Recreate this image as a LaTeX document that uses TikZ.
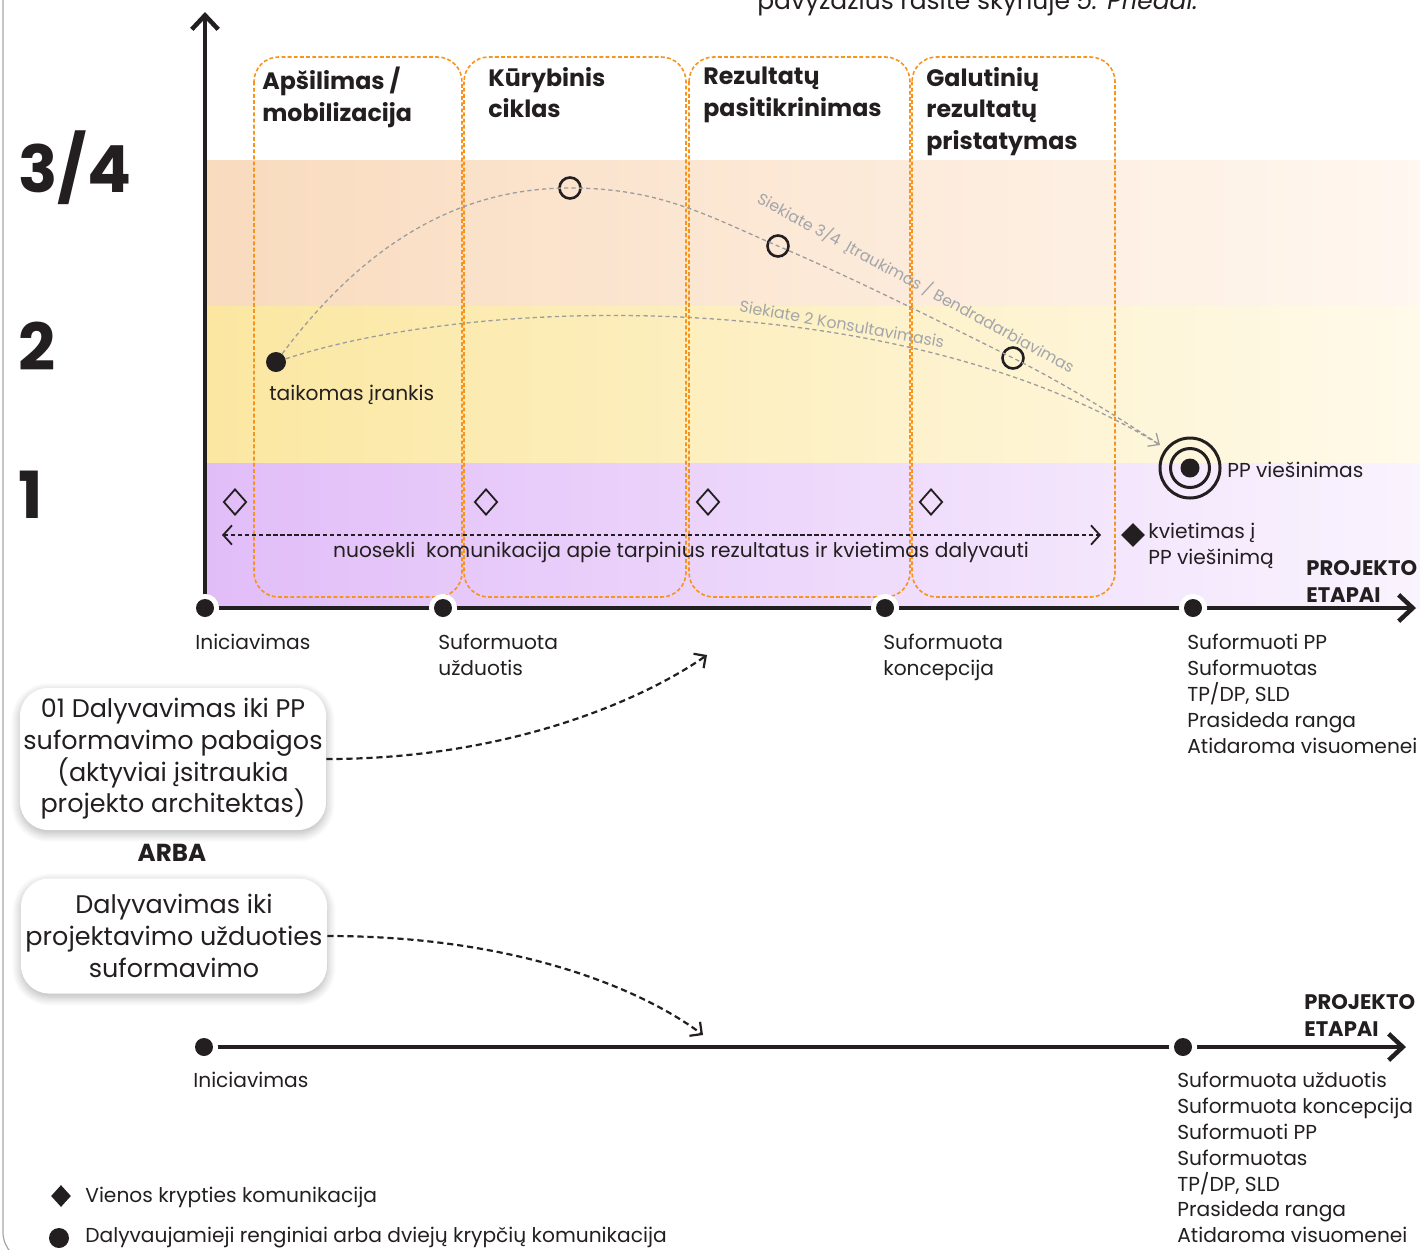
\documentclass[tikz,border=0pt]{standalone}
\usepackage{fontspec}
\setmainfont{Poppins}
\usetikzlibrary{positioning, shapes.geometric, arrows.meta, calc, shadows.blur}

\definecolor{ink}{HTML}{231F20}
\definecolor{stageorange}{HTML}{F7941D}
\definecolor{trendgray}{HTML}{9D9D9D}
\definecolor{labelgray}{HTML}{A3A5AA}
\definecolor{bandhigh}{HTML}{F9DBBE}
\definecolor{bandhighend}{HTML}{FFF7F0}
\definecolor{bandmid}{HTML}{FBE7A1}
\definecolor{bandmidend}{HTML}{FFFAEA}
\definecolor{bandlow}{HTML}{E1BDF8}
\definecolor{bandlowend}{HTML}{FAF4FE}

\newdimen\pxu
\pxu=0.02cm

\begin{document}
\begin{tikzpicture}[
    x=0.02cm, y=-0.02cm,
    body/.style={inner sep=0pt, anchor=north west, align=left, text=ink, font=\fontsize{11.5}{14.7}\selectfont},
    stagetitle/.style={inner sep=0pt, anchor=north west, align=left, text=ink, font=\fontsize{13.5}{18}\selectfont\bfseries},
    level/.style={inner sep=0pt, anchor=west, text=ink, font=\fontsize{37}{37}\selectfont\bfseries},
    heading/.style={inner sep=0pt, anchor=north west, align=left, text=ink, font=\fontsize{12}{15.3}\selectfont\bfseries},
    stagebox/.style={draw=stageorange, line width=1.6\pxu, dash pattern=on 2.2pt off 1.3pt, rounded corners=14pt},
    axis/.style={draw=ink, line width=4.5\pxu, -{Straight Barb[length=8pt, width=15pt]}},
    tdot/.style={circle, fill=ink, inner sep=0pt, minimum size=18\pxu, preaction={draw=white, line width=10\pxu}},
    opendot/.style={circle, draw=ink, line width=2.6\pxu, inner sep=0pt, minimum size=21\pxu},
    fulldot/.style={circle, fill=ink, inner sep=0pt, minimum size=20\pxu},
    ring/.style={circle, draw=ink, line width=3\pxu, inner sep=0pt},
    opendiam/.style={diamond, draw=ink, line width=1.8\pxu, inner sep=0pt, minimum width=23\pxu, minimum height=26\pxu},
    fulldiam/.style={diamond, fill=ink, inner sep=0pt, minimum width=24\pxu, minimum height=24\pxu},
    trend/.style={draw=trendgray, line width=1.3\pxu, dash pattern=on 2.4pt off 1.8pt},
    trendlabel/.style={inner sep=0pt, text=labelgray, font=\fontsize{9}{10}\selectfont},
    comm/.style={draw=ink, line width=1.8\pxu, dash pattern=on 2.4pt off 1.6pt, {Straight Barb[length=5pt, width=11pt]}-{Straight Barb[length=5pt, width=11pt]}},
    choice/.style={fill=white, rounded corners=16pt, align=center, inner sep=0pt, text=ink, font=\fontsize{14.5}{18}\selectfont, minimum width=306\pxu,
        blur shadow={shadow blur steps=10, shadow xshift=0pt, shadow yshift=-2pt, shadow blur radius=5pt, shadow opacity=30}},
    pointer/.style={draw=ink, line width=2.2\pxu, dash pattern=on 3.5pt off 2.2pt, -{Straight Barb[length=5pt, width=10pt]}}
]
\useasboundingbox (0,0) rectangle (1420,1249);

% Rahmen und Hinweis oben
\draw[draw=gray!70, line width=1.2\pxu, rounded corners=17pt] (3,-20) -- (3,1262) -- (90,1262);
\node[body, anchor=base west, font=\fontsize{14.2}{16}\selectfont] (note) at (757,9) {pavyzdžius rasite skyriuje \textit{5. Priedai.}};

% Hintergrund
\shade[left color=bandhigh, right color=bandhighend] (205,160) rectangle (1420,306);
\shade[left color=bandmid, right color=bandmidend] (205,306) rectangle (1420,463);
\shade[left color=bandlow, right color=bandlowend] (205,463) rectangle (1420,608);

\node[level] (lvlhigh) at (18,168) {3/4};
\node[level] (lvlmid) at (18,346) {2};
\node[level] (lvllow) at (18,495) {1};

% Etappen
\draw[stagebox] (254,57) rectangle (462,597);
\draw[stagebox] (464,57) rectangle (686,597);
\draw[stagebox] (689,57) rectangle (910,597);
\draw[stagebox] (912,57) rectangle (1115,597);
\node[stagetitle] (warmup) at (262,67) {Apšilimas /\\mobilizacija};
\node[stagetitle] (cycle) at (488,67) {Kūrybinis\\ciklas};
\node[stagetitle] (check) at (703,67) {Rezultatų\\pasitikrinimas};
\node[stagetitle] (final) at (926,67) {Galutinių\\rezultatų\\pristatymas};

% Achsen
\coordinate (origin) at (205,608);
\coordinate (yend) at (205,12);
\coordinate (xend) at (1416,608);
\draw[axis] (origin) -- (yend);
\draw[axis] (origin) -- (xend);

% Knoten
\node[fulldot] (tool) at (276,362) {};
\node[body] (toollabel) at (269,385) {taikomas įrankis};
\node[opendot] (c1) at (570,188) {};
\node[opendot] (c2) at (778,246) {};
\node[opendot] (c3) at (1013,358) {};
\node[ring, minimum size=60\pxu] (tgt) at (1190,468) {};
\node[ring, minimum size=39\pxu] (tgtmid) at (tgt) {};
\node[fulldot, minimum size=19\pxu] (tgtin) at (tgt) {};
\node[body, anchor=west] (tgtlabel) at (1227,470) {PP viešinimas};
\coordinate (tgtend) at (1160,445);

\node[trendlabel, rotate=-28.6] (highlabel) at (916,283) {Siekiate 3/4~ Įtraukimas / Bendradarbiavimas};
\node[trendlabel, rotate=-10] (midlabel) at (842,324) {Siekiate 2 Konsultavimasis};

\node[opendiam] (m0) at (235,502) {};
\node[opendiam] (m1) at (486,502) {};
\node[opendiam] (m2) at (708,502) {};
\node[opendiam] (m3) at (931,502) {};
\coordinate (commL) at (222,535);
\coordinate (commR) at (1101,535);
\node[body, anchor=center] (commlabel) at (681,552) {nuosekli~ komunikacija apie tarpinius rezultatus ir kvietimas dalyvauti};
\node[fulldiam] (invite) at (1133,535) {};
\node[body] (invitelabel) at (1148,523) {kvietimas į\\PP viešinimą};

\node[tdot] (d0) at (origin) {};
\node[tdot] (d1) at (443,608) {};
\node[tdot] (d2) at (885,608) {};
\node[tdot] (d3) at (1193,608) {};
\node[body] (l0) at (195,634) {Iniciavimas};
\node[body] (l1) at (438,634) {Suformuota\\užduotis};
\node[body] (l2) at (883,634) {Suformuota\\koncepcija};
\node[body] (l3) at (1187,634) {Suformuoti PP\\Suformuotas\\TP/DP, SLD\\Prasideda ranga\\Atidaroma visuomenei};
\node[heading] (stages) at (1306,560) {PROJEKTO\\ETAPAI};

% Varianten
\node[choice, minimum height=142\pxu] (full) at (173,759) {01 Dalyvavimas iki PP\\suformavimo pabaigos\\(aktyviai įsitraukia\\projekto architektas)};
\node[heading, anchor=center, font=\fontsize{14}{16}\selectfont\bfseries] (arba) at (172,853) {ARBA};
\node[choice, minimum height=115\pxu] (short) at (174,936) {Dalyvavimas iki\\projektavimo užduoties\\suformavimo};
\coordinate (fullend) at (707,655);
\coordinate (shortend) at (703,1035);

% zweite Zeitachse
\coordinate (borigin) at (204,1047);
\coordinate (bend) at (1406,1047);
\draw[axis] (borigin) -- (bend);
\node[tdot] (b0) at (borigin) {};
\node[tdot] (b1) at (1183,1047) {};
\node[body] (bl0) at (193,1072) {Iniciavimas};
\node[body] (bl1) at (1177,1072) {Suformuota užduotis\\Suformuota koncepcija\\Suformuoti PP\\Suformuotas\\TP/DP, SLD\\Prasideda ranga\\Atidaroma visuomenei};
\node[heading] (bstages) at (1304,994) {PROJEKTO\\ETAPAI};

% Legende
\node[fulldiam, minimum width=20\pxu, minimum height=22\pxu] (legdiam) at (61,1196) {};
\node[body, anchor=west] (legdiamtext) at (85,1197) {Vienos krypties komunikacija};
\node[fulldot] (legdot) at (59,1238) {};
\node[body, anchor=west] (legdottext) at (85,1238) {Dalyvaujamieji renginiai arba dviejų krypčių komunikacija};

% Kanten zwischen Knoten
\draw[trend, -{Straight Barb[length=5pt, width=9pt]}] (tool) .. controls +(90,-120) and +(-110,0) .. (c1.center)
    .. controls +(90,0) and +(-70,-30) .. (c2.center)
    .. controls +(70,30) and +(-90,-45) .. (c3.center)
    .. controls +(60,30) and +(-30,-20) .. (tgtend);
\draw[trend] (tool) .. controls (480,295) and (900,285) .. (tgtend);
\draw[comm] (commL) -- (commR);
\draw[pointer] (full.east) .. controls +(190,0) and (650,695) .. (fullend);
\draw[pointer] (short.east) .. controls +(200,0) and (650,995) .. (shortend);

\end{tikzpicture}
\end{document}
